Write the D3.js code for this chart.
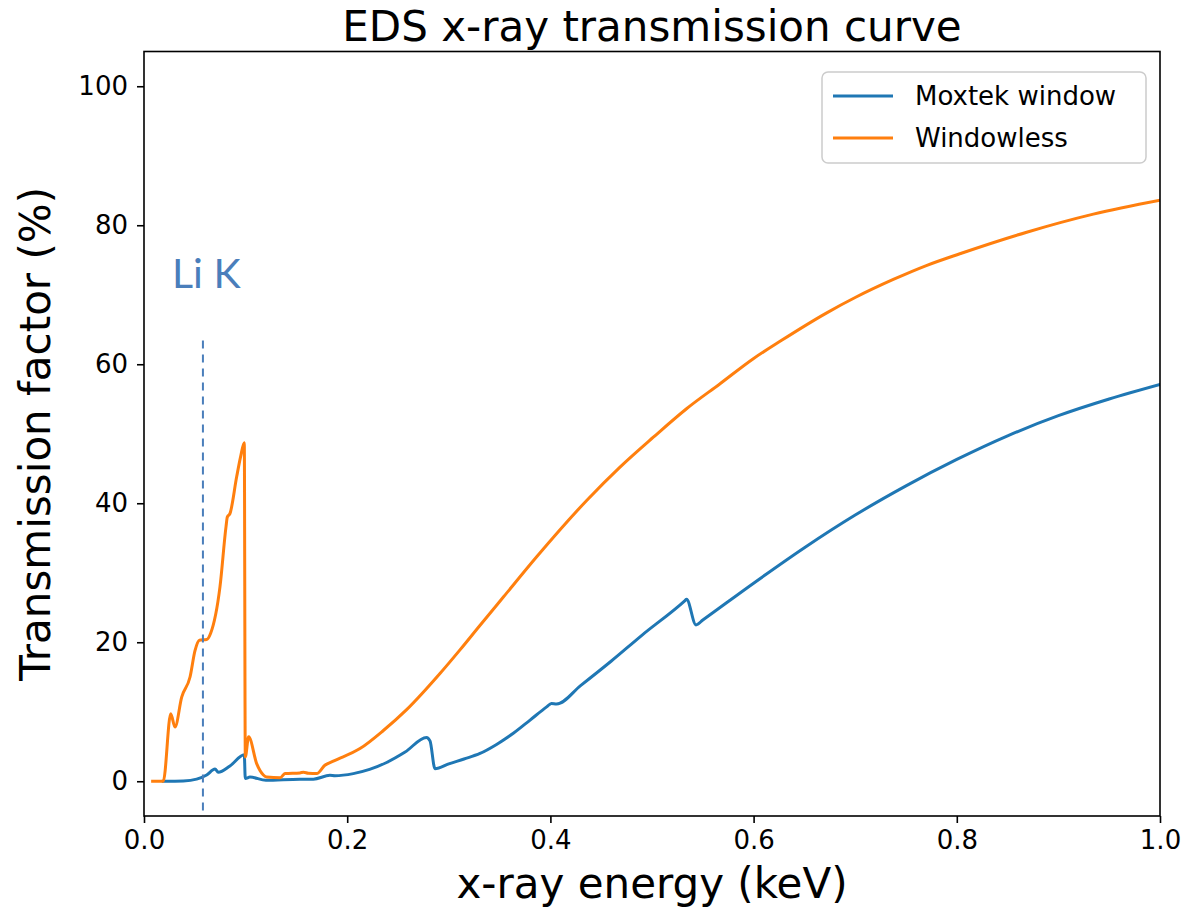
<!DOCTYPE html>
<html>
<head>
<meta charset="utf-8">
<script src="https://cdn.jsdelivr.net/npm/d3@7"></script>
<style>
  html, body { margin: 0; padding: 0; background: #ffffff; }
  svg { display: block; font-family: "DejaVu Sans", sans-serif; }
</style>
</head>
<body>
<svg id="chart" width="1185" height="916"></svg>
<script>
// Transmission of x-rays through the detector entrance (energy in keV, transmission in %)
const moxtekEnergy = [0.019, 0.0387, 0.0518, 0.0617, 0.0699, 0.0731, 0.0846, 0.0987, 0.0997, 0.1043,
  0.12, 0.1535, 0.1667, 0.183, 0.188, 0.206, 0.222, 0.2388, 0.257, 0.278, 0.2815, 0.2864,
  0.30, 0.315, 0.3307, 0.347, 0.3635, 0.38, 0.3963, 0.401, 0.406, 0.43, 0.46, 0.49, 0.5325,
  0.534, 0.5433, 0.55, 0.6, 0.65, 0.7, 0.75, 0.8, 0.85, 0.9, 0.95, 1.0];
const moxtekValues = [0, 0.05, 0.3, 0.9, 1.75, 1.3, 2.2, 3.8, 0.4, 0.6,
  0.15, 0.3, 0.3, 0.85, 0.8, 1.1, 1.7, 2.7, 4.2, 6.3, 5.8, 1.8,
  2.5, 3.2, 4.0, 5.3, 6.9, 8.8, 10.7, 11.2, 11.1, 13.8, 17.3, 21.0, 26.0,
  26.2, 22.5, 23.2, 28.5, 33.6, 38.3, 42.5, 46.3, 49.7, 52.6, 55.0, 57.1];

const windowlessEnergy = [0.0085, 0.019, 0.0263, 0.0305, 0.0371, 0.0453, 0.0502, 0.0545, 0.0617,
  0.0656, 0.0748, 0.0807, 0.082, 0.0846, 0.0912, 0.0951, 0.0987, 0.0997, 0.103, 0.111, 0.1175,
  0.1208, 0.134, 0.1388, 0.1535, 0.157, 0.1617, 0.17, 0.178, 0.1863, 0.2126, 0.2356, 0.2585,
  0.2913, 0.311, 0.33, 0.3537, 0.3865, 0.4357, 0.4685, 0.5013, 0.534, 0.567, 0.5997, 0.626,
  0.672, 0.70, 0.7375, 0.77, 0.803, 0.8688, 0.9344, 1.0];
const windowlessValues = [0, 0, 9.7, 7.8, 12.1, 15.0, 18.8, 20.3, 20.4,
  21.3, 28.0, 36.6, 38.0, 38.5, 43.8, 46.7, 48.7, 3.5, 6.4, 2.5, 0.9,
  0.6, 0.5, 1.1, 1.2, 1.3, 1.15, 1.1, 2.3, 2.9, 4.7, 7.3, 10.3,
  15.5, 18.9, 22.3, 26.5, 32.3, 40.4, 45.2, 49.5, 53.6, 57.2, 60.8, 63.3,
  67.4, 69.6, 72.2, 74.2, 75.9, 79.0, 81.6, 83.6];

const seriesNames = ["Moxtek window", "Windowless"];
const seriesColors = ["#1f77b4", "#ff7f0e"];

const xTicks = [0.0, 0.2, 0.4, 0.6, 0.8, 1.0];
const yTicks = [0, 20, 40, 60, 80, 100];

// Li K line marker
const liKEnergy = 0.058;
const liKRange = [-4.2, 63.7];
const liKLabel = "Li K";

const svg = d3.select("#chart");
const margin = { left: 144, top: 51.5, right: 25, bottom: 100 };
const width = 1185 - margin.left - margin.right;   // 1016
const height = 916 - margin.top - margin.bottom;   // 764.5

const x = d3.scaleLinear().domain([0, 1]).range([0, width]);
const y = d3.scaleLinear().domain([-5, 105]).range([height, 0]);

const g = svg.append("g").attr("transform", `translate(${margin.left},${margin.top})`);

// clip the curves to the plotting area
svg.append("defs").append("clipPath").attr("id", "plotClip")
  .append("rect").attr("width", width).attr("height", height);

const line = d3.line()
  .x(d => x(d[0]))
  .y(d => y(d[1]))
  .curve(d3.curveMonotoneX);

const series = [
  d3.zip(moxtekEnergy, moxtekValues),
  d3.zip(windowlessEnergy, windowlessValues)
];

const plot = g.append("g").attr("clip-path", "url(#plotClip)");
series.forEach((s, i) => {
  plot.append("path")
    .datum(s)
    .attr("fill", "none")
    .attr("stroke", seriesColors[i])
    .attr("stroke-width", 3)
    .attr("stroke-linejoin", "round")
    .attr("stroke-linecap", "square")
    .attr("d", line);
});

// dashed marker for Li K
g.append("line")
  .attr("x1", x(liKEnergy)).attr("x2", x(liKEnergy))
  .attr("y1", y(liKRange[0])).attr("y2", y(liKRange[1]))
  .attr("stroke", "#4a7ebb")
  .attr("stroke-width", 2)
  .attr("stroke-dasharray", "8,6");

g.append("text")
  .attr("x", 28)
  .attr("y", 236.5)
  .attr("fill", "#4a7ebb")
  .style("font-family", "Lato, 'Open Sans', sans-serif")
  .style("font-size", "41px")
  .text(liKLabel);

// axes
const xAxis = d3.axisBottom(x).tickValues(xTicks).tickFormat(d3.format(".1f"))
  .tickSizeInner(7).tickSizeOuter(0).tickPadding(8);
const yAxis = d3.axisLeft(y).tickValues(yTicks).tickFormat(d3.format("d"))
  .tickSizeInner(7).tickSizeOuter(0).tickPadding(9);

const gx = g.append("g").attr("transform", `translate(0,${height})`).call(xAxis);
const gy = g.append("g").call(yAxis);
[gx, gy].forEach(a => {
  a.select(".domain").remove();
  a.selectAll(".tick line").attr("stroke", "#000").attr("stroke-width", 1.6);
  a.selectAll(".tick text").attr("fill", "#000")
    .style("font-family", "'DejaVu Sans', sans-serif").style("font-size", "26px");
});

// frame
g.append("rect")
  .attr("width", width).attr("height", height)
  .attr("fill", "none").attr("stroke", "#000").attr("stroke-width", 1.6);

// title and axis labels
svg.append("text")
  .attr("x", margin.left + width / 2).attr("y", 41)
  .attr("text-anchor", "middle")
  .style("font-size", "42px").attr("fill", "#000")
  .text("EDS x-ray transmission curve");

svg.append("text")
  .attr("x", margin.left + width / 2).attr("y", 898)
  .attr("text-anchor", "middle")
  .style("font-size", "42px").attr("fill", "#000")
  .text("x-ray energy (keV)");

svg.append("text")
  .attr("transform", `translate(50,${margin.top + height / 2}) rotate(-90)`)
  .attr("text-anchor", "middle")
  .style("font-size", "42px").attr("fill", "#000")
  .text("Transmission factor (%)");

// legend
const legend = g.append("g").attr("transform", `translate(${822 - margin.left},${72 - margin.top})`);
legend.append("rect")
  .attr("width", 324).attr("height", 91)
  .attr("rx", 6).attr("ry", 6)
  .attr("fill", "#ffffff").attr("fill-opacity", 0.8)
  .attr("stroke", "#cccccc").attr("stroke-width", 1.5);
seriesNames.forEach((name, i) => {
  const yy = 24 + i * 42;
  legend.append("line")
    .attr("x1", 11).attr("x2", 71).attr("y1", yy).attr("y2", yy)
    .attr("stroke", seriesColors[i]).attr("stroke-width", 3);
  legend.append("text")
    .attr("x", 93).attr("y", yy).attr("dy", "0.35em")
    .style("font-size", "26px").attr("fill", "#000")
    .text(name);
});
</script>
</body>
</html>
